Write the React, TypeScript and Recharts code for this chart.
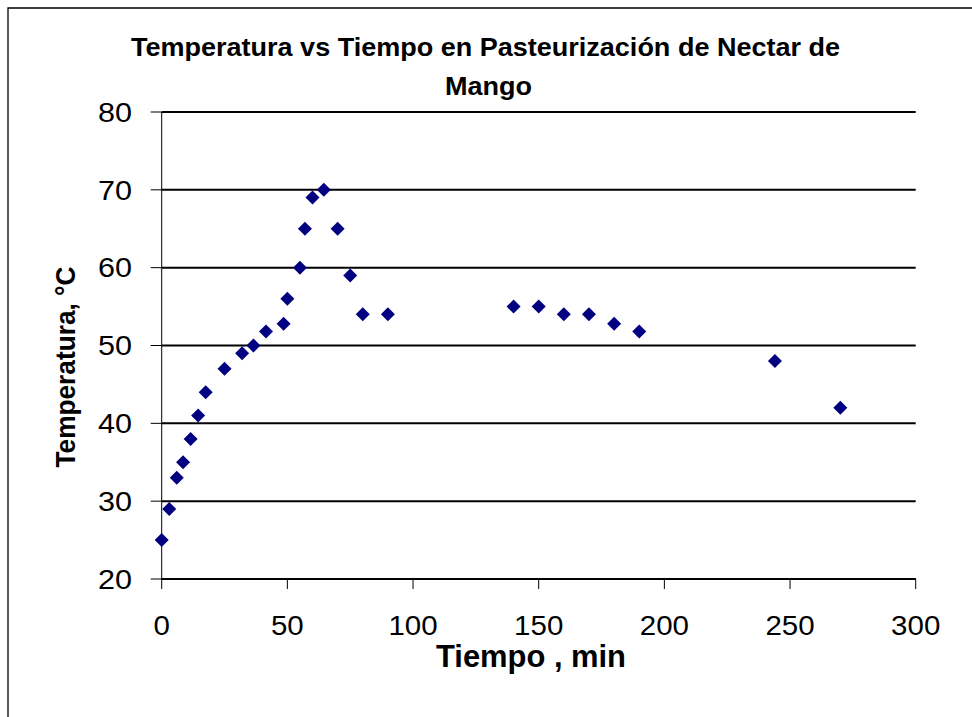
import React from "react";
import { ScatterChart, Scatter, XAxis, YAxis, CartesianGrid } from "recharts";

const timeMin = [0, 3, 6, 8.5, 11.5, 14.5, 17.5, 25, 32, 36.5, 41.5, 48.5, 50, 55, 57, 60, 64.5, 70, 75, 80, 90, 140, 150, 160, 170, 180, 190, 244, 270];
const tempC = [25, 29, 33, 35, 38, 41, 44, 47, 49, 50, 51.8, 52.8, 56, 60, 65, 69, 70, 65, 59, 54, 54, 55, 55, 54, 54, 52.8, 51.8, 48, 42];
const xTicks = [0, 50, 100, 150, 200, 250, 300];
const yTicks = [20, 30, 40, 50, 60, 70, 80];

const titleLine1 = "Temperatura vs Tiempo en Pasteurización de Nectar de";
const titleLine2 = "Mango";
const xTitle = "Tiempo , min";
const yTitle = "Temperatura, °C";

const data = timeMin.map((t, i) => ({ t, temp: tempC[i] }));

const FONT = "'Liberation Sans', Arial, sans-serif";

const XTick = (props: any) => {
  const { x, y, payload } = props;
  const s = String(payload.value);
  return (
    <text x={x} y={y + 46} textAnchor="middle" fontSize={28} fontFamily={FONT} fill="#000"
      textLength={s.length * 16.4} lengthAdjust="spacingAndGlyphs">{s}</text>
  );
};

const YTick = (props: any) => {
  const { x, y, payload } = props;
  const s = String(payload.value);
  return (
    <text x={x} y={y + 9.8} textAnchor="end" fontSize={27} fontFamily={FONT} fill="#000"
      textLength={s.length * 17} lengthAdjust="spacingAndGlyphs">{s}</text>
  );
};

const Diamond = (props: any) => {
  const { cx, cy } = props;
  const r = 7;
  return <polygon points={`${cx},${cy - r} ${cx + r},${cy} ${cx},${cy + r} ${cx - r},${cy}`} fill="#000080" />;
};

export default function App() {
  return (
    <div style={{ position: "absolute", left: 0, top: 0, width: 972, height: 717, background: "#fff" }}>
      <ScatterChart width={972} height={717} margin={{ top: 112, right: 56.3, bottom: 78, left: 0 }}>
        <CartesianGrid horizontal={true} vertical={false} stroke="#000" strokeWidth={2} />
        <XAxis type="number" dataKey="t" domain={[0, 300]} ticks={xTicks} height={60}
          axisLine={{ stroke: "#000", strokeWidth: 2 }} tickLine={{ stroke: "#000" }} tickSize={10} tickMargin={0}
          tick={<XTick />} interval={0} />
        <YAxis type="number" dataKey="temp" domain={[20, 80]} ticks={yTicks} width={161.7}
          axisLine={{ stroke: "#000" }} tickLine={{ stroke: "#000" }} tickSize={11} tickMargin={18.7}
          tick={<YTick />} interval={0} />
        <Scatter data={data} shape={<Diamond />} isAnimationActive={false} />
      </ScatterChart>
      <svg width={972} height={717} style={{ position: "absolute", left: 0, top: 0, pointerEvents: "none" }}>
        <path d="M8,717 L8,8 L972,8" fill="none" stroke="#000" strokeWidth={1.3} />
        <text x={485.5} y={56} textAnchor="middle" fontSize={26} fontWeight="bold" fontFamily={FONT}
          textLength={709} lengthAdjust="spacingAndGlyphs">{titleLine1}</text>
        <text x={488.5} y={95} textAnchor="middle" fontSize={26} fontWeight="bold" fontFamily={FONT}
          textLength={87} lengthAdjust="spacingAndGlyphs">{titleLine2}</text>
        <text x={531} y={667} textAnchor="middle" fontSize={31} fontWeight="bold" fontFamily={FONT}
          textLength={190} lengthAdjust="spacingAndGlyphs">{xTitle}</text>
        <text x={75} y={367} textAnchor="middle" fontSize={27} fontWeight="bold" fontFamily={FONT}
          transform="rotate(-90, 75, 367)" textLength={201} lengthAdjust="spacingAndGlyphs">{yTitle}</text>
      </svg>
    </div>
  );
}
